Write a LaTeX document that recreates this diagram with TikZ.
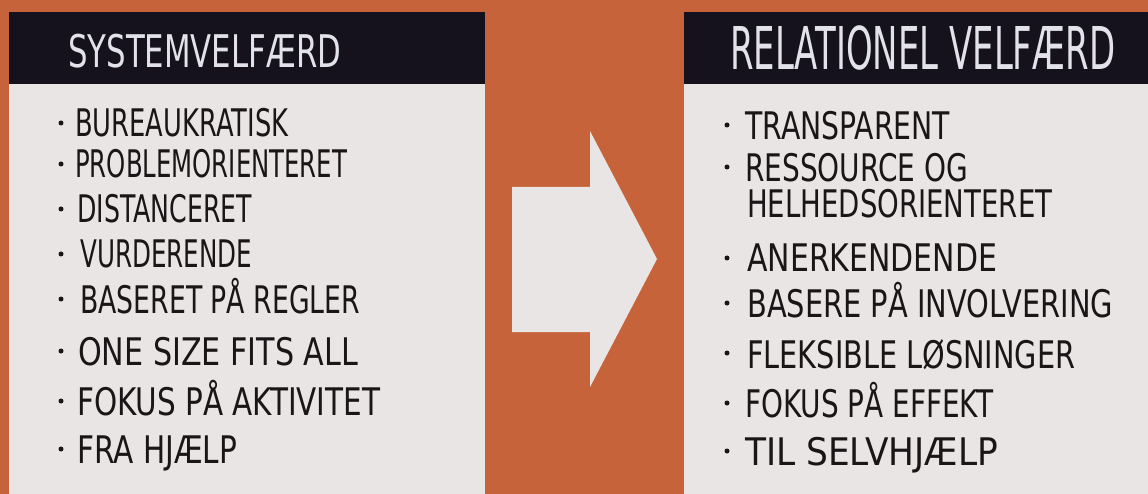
\documentclass[tikz,border=0pt]{standalone}
\usepackage{fontspec}
\setmainfont{DejaVu Sans}
\usepackage{graphicx}
\definecolor{bgorange}{HTML}{C6633A}
\definecolor{bodygrey}{HTML}{E9E5E5}
\definecolor{headdark}{HTML}{15121D}
\definecolor{titletext}{HTML}{E2E2EA}
\definecolor{ink}{HTML}{1A1618}
\newcommand\fitw[2]{\resizebox{#1pt}{\height}{#2}}
\tikzset{
  panelbox/.style={fill=bodygrey, draw=none, inner sep=0, anchor=north west},
  headbox/.style={fill=headdark, draw=none, inner sep=0, anchor=north west},
  itemtext/.style={anchor=base west, inner sep=0, text=ink, font=\fontsize{38}{38}\selectfont},
  titletxt/.style={anchor=base west, inner sep=0, text=titletext},
  bulletdot/.style={circle, fill=ink, inner sep=0, minimum size=5pt},
  bigarrow/.style={fill=bodygrey, draw=none},
}
\begin{document}
\begin{tikzpicture}[x=1pt,y=-1pt]
\fill[bgorange] (0,0) rectangle (1148,494);
\useasboundingbox (0,0) rectangle (1148,494);
% panels
\node[panelbox, minimum width=476pt, minimum height=410pt] (lbody) at (9,84) {};
\node[headbox, minimum width=476pt, minimum height=72pt] (lhead) at (9,12) {};
\node[panelbox, minimum width=464pt, minimum height=410pt] (rbody) at (684,84) {};
\node[headbox, minimum width=464pt, minimum height=72pt] (rhead) at (684,12) {};
% titles
\node[titletxt, font=\fontsize{45}{45}\selectfont] (ltitle) at (68,68) {\fitw{273}{SYSTEMVELF\AE RD}};
\node[titletxt, font=\fontsize{59}{59}\selectfont] (rtitle) at (730,70) {\fitw{385}{RELATIONEL VELF\AE RD}};
% arrow
\coordinate (a1) at (512,187);
\coordinate (a2) at (590,187);
\coordinate (a3) at (590,131);
\coordinate (a4) at (657,259);
\coordinate (a5) at (590,387);
\coordinate (a6) at (590,332);
\coordinate (a7) at (512,332);
\fill[bigarrow] (a1) -- (a2) -- (a3) -- (a4) -- (a5) -- (a6) -- (a7) -- cycle;
% left items
\node[itemtext] (l1) at (75,137) {\fitw{213}{BUREAUKRATISK}};
\node[itemtext] (l2) at (75,178) {\fitw{272}{PROBLEMORIENTERET}};
\node[itemtext] (l3) at (77,223) {\fitw{175}{DISTANCERET}};
\node[itemtext] (l4) at (80,268) {\fitw{172}{VURDERENDE}};
\node[itemtext] (l5) at (80,313) {\fitw{280}{BASERET P\AA{} REGLER}};
\node[itemtext] (l6) at (78,365) {\fitw{280}{ONE SIZE FITS ALL}};
\node[itemtext] (l7) at (77,415) {\fitw{303}{FOKUS P\AA{} AKTIVITET}};
\node[itemtext] (l8) at (77,463) {\fitw{160}{FRA HJ\AE LP}};
\foreach \b/\y in {1/123,2/164,3/209,4/254,5/299,6/351,7/401,8/449}
  \node[bulletdot] (lb\b) at (61,\y) {};
% right items
\node[itemtext] (r1) at (745,140) {\fitw{205}{TRANSPARENT}};
\node[itemtext] (r2) at (745,182) {\fitw{223}{RESSOURCE OG}};
\node[itemtext] (r3) at (747,218) {\fitw{305}{HELHEDSORIENTERET}};
\node[itemtext] (r4) at (747,272) {\fitw{250}{ANERKENDENDE}};
\node[itemtext] (r5) at (747,317) {\fitw{366}{BASERE P\AA{} INVOLVERING}};
\node[itemtext] (r6) at (747,368) {\fitw{328}{FLEKSIBLE L\O SNINGER}};
\node[itemtext] (r7) at (745,417) {\fitw{248}{FOKUS P\AA{} EFFEKT}};
\node[itemtext] (r8) at (745,465) {\fitw{253}{TIL SELVHJ\AE LP}};
\foreach \b/\y in {1/125,2/167,4/258,5/303,6/353,7/403,8/451}
  \node[bulletdot] (rb\b) at (727,\y) {};
\end{tikzpicture}
\end{document}
